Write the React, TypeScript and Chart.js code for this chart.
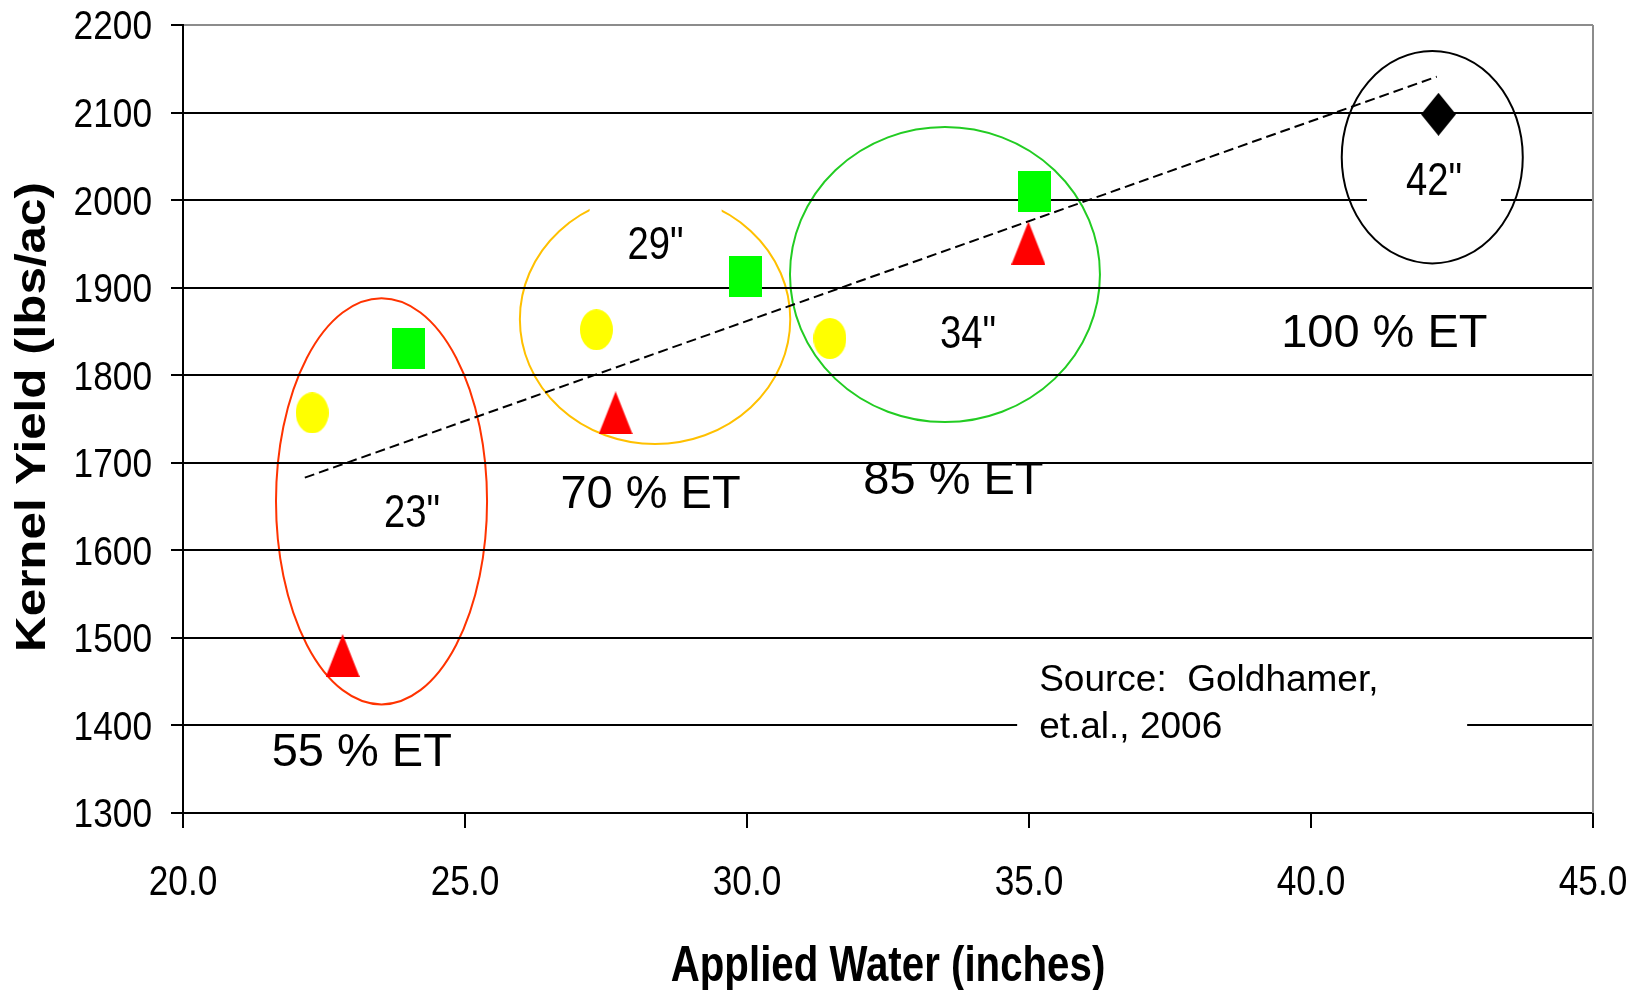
import React, { useEffect, useRef } from "react";
import { Chart, registerables } from "chart.js";

Chart.register(...registerables);

// ---------- data ----------
const yellowX = [22.29, 27.33, 31.47];
const yellowY = [1757, 1852, 1842];
const greenX = [23.99, 29.98, 35.1];
const greenY = [1830, 1913, 2010];
const redX = [22.83, 27.67, 34.99];
const redY = [1480, 1757, 1951];
const blackX = [42.26];
const blackY = [2098];
const trendX = [22.16, 42.23];
const trendY = [1683, 2141];

const groupNames = ["55 % ET", "70 % ET", "85 % ET", "100 % ET"];
const groupLabelX = [23.17, 28.29, 33.66, 41.3];
const groupLabelY = [1373, 1667, 1683, 1851];

const depthNames = ['23"', '29"', '34"', '42"'];
const depthLabelX = [24.06, 28.38, 33.92, 42.18];
const depthLabelY = [1646, 1951, 1850, 2025];

const ringCx = [23.52, 28.37, 33.51, 42.15];
const ringCy = [1656, 1864, 1915, 2049];
const ringRx = [1.871, 2.397, 2.748, 1.605];
const ringRy = [232, 142.5, 168.5, 121.3];

const sourceLines = ["Source:  Goldhamer,", "et.al., 2006"];
const sourceX = 35.18;
const sourceY = [1455, 1401];

const xTitle = "Applied Water (inches)";
const yTitle = "Kernel Yield (lbs/ac)";

const xMin = 20, xMax = 45, xStep = 5;
const yMin = 1300, yMax = 2200, yStep = 100;

// ---------- styles ----------
const FONT = "'Liberation Sans', Arial, sans-serif";
const ringColors = ["#ff3300", "#ffc000", "#22cc22", "#000000"];

function makeMarker(kind: string, w: number, h: number, color: string) {
  const c = document.createElement("canvas");
  c.width = w;
  c.height = h;
  const g = c.getContext("2d")!;
  g.fillStyle = color;
  g.beginPath();
  if (kind === "ellipse") g.ellipse(w / 2, h / 2, w / 2, h / 2, 0, 0, Math.PI * 2);
  else if (kind === "rect") g.rect(0, 0, w, h);
  else if (kind === "triangle") {
    g.moveTo(w / 2, 0);
    g.lineTo(w, h);
    g.lineTo(0, h);
    g.closePath();
  } else {
    g.moveTo(w / 2, 0);
    g.lineTo(w, h / 2);
    g.lineTo(w / 2, h);
    g.lineTo(0, h / 2);
    g.closePath();
  }
  g.fill();
  return c;
}

// draws text whose cap height is centred on (px, py); sx stretches along the text
function drawText(
  ctx: CanvasRenderingContext2D,
  s: string,
  px: number,
  py: number,
  size: number,
  align: CanvasTextAlign,
  sx = 1,
  bold = false,
  rot = 0
) {
  ctx.save();
  ctx.translate(px, py);
  if (rot) ctx.rotate(rot);
  ctx.scale(sx, 1);
  ctx.font = `${bold ? "bold " : ""}${size}px ${FONT}`;
  ctx.textAlign = align;
  ctx.textBaseline = "alphabetic";
  ctx.fillStyle = "#000";
  ctx.fillText(s, 0, 0.358 * size);
  ctx.restore();
}

const annotate = {
  id: "annotate",
  beforeDraw(chart: any) {
    const { ctx } = chart;
    const x = chart.scales.x, y = chart.scales.y;
    ctx.save();
    ringCx.forEach((cx, i) => {
      const px = x.getPixelForValue(cx);
      const py = y.getPixelForValue(ringCy[i]);
      const rx = Math.abs(x.getPixelForValue(cx + ringRx[i]) - px);
      const ry = Math.abs(y.getPixelForValue(ringCy[i] + ringRy[i]) - py);
      ctx.beginPath();
      ctx.ellipse(px, py, rx, ry, 0, 0, Math.PI * 2);
      ctx.strokeStyle = ringColors[i];
      ctx.lineWidth = 2;
      ctx.stroke();
    });
    // white text box of the 29" label (covers the ring, under the grid)
    const bx = x.getPixelForValue(depthLabelX[1]);
    const by = y.getPixelForValue(depthLabelY[1]);
    ctx.fillStyle = "#fff";
    ctx.fillRect(bx - 66, by - 53, 132, 106);
    ctx.restore();
  },
  beforeDatasetsDraw(chart: any) {
    const { ctx } = chart;
    const x = chart.scales.x, y = chart.scales.y;
    const a = chart.chartArea;
    ctx.save();
    // white boxes over grid
    const qx = x.getPixelForValue(depthLabelX[3]);
    const qy = y.getPixelForValue(depthLabelY[3]);
    ctx.fillStyle = "#fff";
    ctx.fillRect(qx - 67, qy - 23, 134, 57);
    const sx = x.getPixelForValue(sourceX);
    const sy = y.getPixelForValue(sourceY[0]);
    ctx.fillRect(sx - 22, sy - 26, 450, 120);

    groupNames.forEach((s, i) => {
      drawText(ctx, s, x.getPixelForValue(groupLabelX[i]), y.getPixelForValue(groupLabelY[i]), 47, "center", 1.0);
    });
    depthNames.forEach((s, i) => {
      drawText(ctx, s, x.getPixelForValue(depthLabelX[i]), y.getPixelForValue(depthLabelY[i]), 46, "center", 0.83);
    });
    sourceLines.forEach((s, i) => {
      drawText(ctx, s, x.getPixelForValue(sourceX), y.getPixelForValue(sourceY[i]), 37, "left", 1.0);
    });

    // tick labels
    y.ticks.forEach((t: any) => {
      drawText(ctx, String(t.value), a.left - 31, y.getPixelForValue(t.value), 40.5, "right", 0.87);
    });
    x.ticks.forEach((t: any) => {
      drawText(ctx, Number(t.value).toFixed(1), x.getPixelForValue(t.value), 880, 42, "center", 0.84);
    });
    // axis titles
    drawText(ctx, xTitle, (a.left + a.right) / 2, 963, 50, "center", 0.805, true);
    drawText(ctx, yTitle, 30, (a.top + a.bottom) / 2 - 2, 42, "center", 1.175, true, -Math.PI / 2);

    // right plot border
    ctx.strokeStyle = "#8c8c8c";
    ctx.lineWidth = 2;
    ctx.beginPath();
    ctx.moveTo(a.right, a.top);
    ctx.lineTo(a.right, a.bottom);
    ctx.stroke();
    ctx.restore();
  },
};

export default function App() {
  const ref = useRef<HTMLCanvasElement | null>(null);

  useEffect(() => {
    if (!ref.current) return;
    const pts = (xs: number[], ys: number[]) => xs.map((v, i) => ({ x: v, y: ys[i] }));
    const yellow = makeMarker("ellipse", 33, 41, "#ffff00");
    const green = makeMarker("rect", 33, 41, "#00ff00");
    const red = makeMarker("triangle", 34, 43, "#ff0000");
    const black = makeMarker("diamond", 35, 43, "#000000");

    const chart = new Chart(ref.current, {
      type: "scatter",
      data: {
        datasets: [
          { label: "yellow", data: pts(yellowX, yellowY), pointStyle: yellow as any, pointRadius: 18 },
          { label: "green", data: pts(greenX, greenY), pointStyle: green as any, pointRadius: 18 },
          { label: "red", data: pts(redX, redY), pointStyle: red as any, pointRadius: 18 },
          { label: "black", data: pts(blackX, blackY), pointStyle: black as any, pointRadius: 18 },
          {
            type: "line",
            label: "trend",
            data: pts(trendX, trendY),
            showLine: true,
            borderColor: "#000",
            borderWidth: 2,
            borderDash: [10, 5],
            pointRadius: 0,
            fill: false,
          } as any,
        ],
      },
      options: {
        animation: false,
        responsive: true,
        maintainAspectRatio: false,
        layout: { padding: { left: 0, top: 25, right: 50, bottom: 0 } },
        plugins: { legend: { display: false }, tooltip: { enabled: false } },
        scales: {
          x: {
            type: "linear",
            min: xMin,
            max: xMax,
            ticks: { stepSize: xStep, display: false },
            grid: { drawOnChartArea: false, tickLength: 15, color: "#000", lineWidth: 2 },
            border: { color: "#000", width: 2 },
            afterFit: (s: any) => {
              s.height = 177;
              s.paddingLeft = 0;
              s.paddingRight = 0;
              s.paddingTop = 0;
              s.paddingBottom = 0;
            },
          },
          y: {
            min: yMin,
            max: yMax,
            ticks: { stepSize: yStep, display: false },
            grid: {
              color: (c: any) => (c.tick && c.tick.value === yMax ? "#8c8c8c" : "#000"),
              tickColor: "#000",
              lineWidth: 2,
              tickLength: 12,
            },
            border: { color: "#000", width: 2 },
            afterFit: (s: any) => {
              s.width = 183;
              s.paddingLeft = 0;
              s.paddingRight = 0;
              s.paddingTop = 0;
              s.paddingBottom = 0;
            },
          },
        },
      } as any,
      plugins: [annotate],
    });
    return () => chart.destroy();
  }, []);

  return (
    <div style={{ position: "absolute", left: 0, top: 0, width: 1643, height: 990, background: "#fff" }}>
      <canvas ref={ref} style={{ width: "100%", height: "100%" }} />
    </div>
  );
}
